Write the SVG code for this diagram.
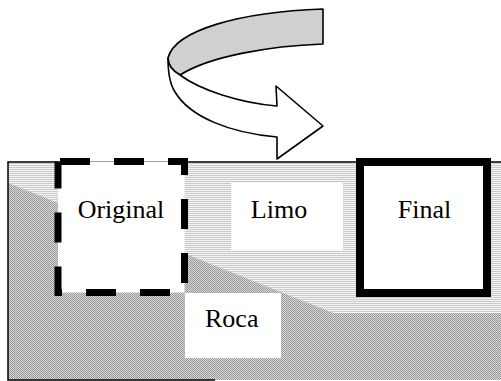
<svg xmlns="http://www.w3.org/2000/svg" width="501" height="381" viewBox="0 0 501 381">
  <defs>
    <!-- silt: fine horizontal hatching -->
    <pattern id="silt" width="4" height="2" patternUnits="userSpaceOnUse">
      <rect width="4" height="2" fill="#f4f4f4"/>
      <rect y="1" width="4" height="1" fill="#cacaca"/>
    </pattern>
    <!-- rock: fine gray checker -->
    <pattern id="rock" width="2" height="2" patternUnits="userSpaceOnUse">
      <rect width="2" height="2" fill="#d8d8d8"/>
      <rect width="1" height="1" fill="#989898"/>
      <rect x="1" y="1" width="1" height="1" fill="#989898"/>
    </pattern>
    <style>
      text { font-family: "Liberation Serif", "Times New Roman", serif; font-size: 26px; fill: #000; }
      .pad { fill: #fff; stroke: none; }
      .rib { stroke: #000; stroke-width: 1.6; stroke-linejoin: round; }
    </style>
  </defs>

  <rect width="501" height="381" fill="#fff"/>

  <!-- soil section: silt above, rock below the sloping contact -->
  <g id="section">
    <rect x="8" y="162" width="493" height="218" fill="url(#silt)"/>
    <path d="M8,183 L333,313 L501,313 L501,380 L8,380 Z" fill="url(#rock)"/>
    <path d="M501,162 L8,162 L8,380 L215,380" fill="none" stroke="#000" stroke-width="1.5"/>
  </g>

  <g id="limo">
    <rect class="pad" x="231" y="183" width="112" height="67"/>
    <text x="279" y="218" text-anchor="middle">Limo</text>
  </g>

  <g id="roca">
    <rect class="pad" x="185" y="293" width="96" height="65"/>
    <text x="205" y="327">Roca</text>
  </g>

  <g id="original">
    <rect x="58" y="161.5" width="126.5" height="131" fill="#fff" stroke="#000" stroke-width="7" stroke-dasharray="30 24" stroke-dashoffset="-2"/>
    <text x="121" y="218" text-anchor="middle">Original</text>
  </g>

  <g id="final">
    <rect x="360" y="162" width="127" height="131" fill="#fff" stroke="#000" stroke-width="8"/>
    <text x="424.5" y="218" text-anchor="middle">Final</text>
  </g>

  <!-- curved ribbon arrow: shaded far side, white near side with head -->
  <g id="connectors">
    <path class="rib" fill="#d0d0d0" d="M323,9 L323,44 C270,46 210,56 180,75 C173,71 168,65 168,58 C175,30 240,12 323,9 Z"/>
    <path class="rib" fill="#fff" d="M180,75 C200,90 240,103 277,106 L276,86 L323,126 L277,159 L277,137 C230,133 190,117 175,92 C169,83 168,70 168,58 C168,65 173,71 180,75 Z"/>
  </g>
</svg>
